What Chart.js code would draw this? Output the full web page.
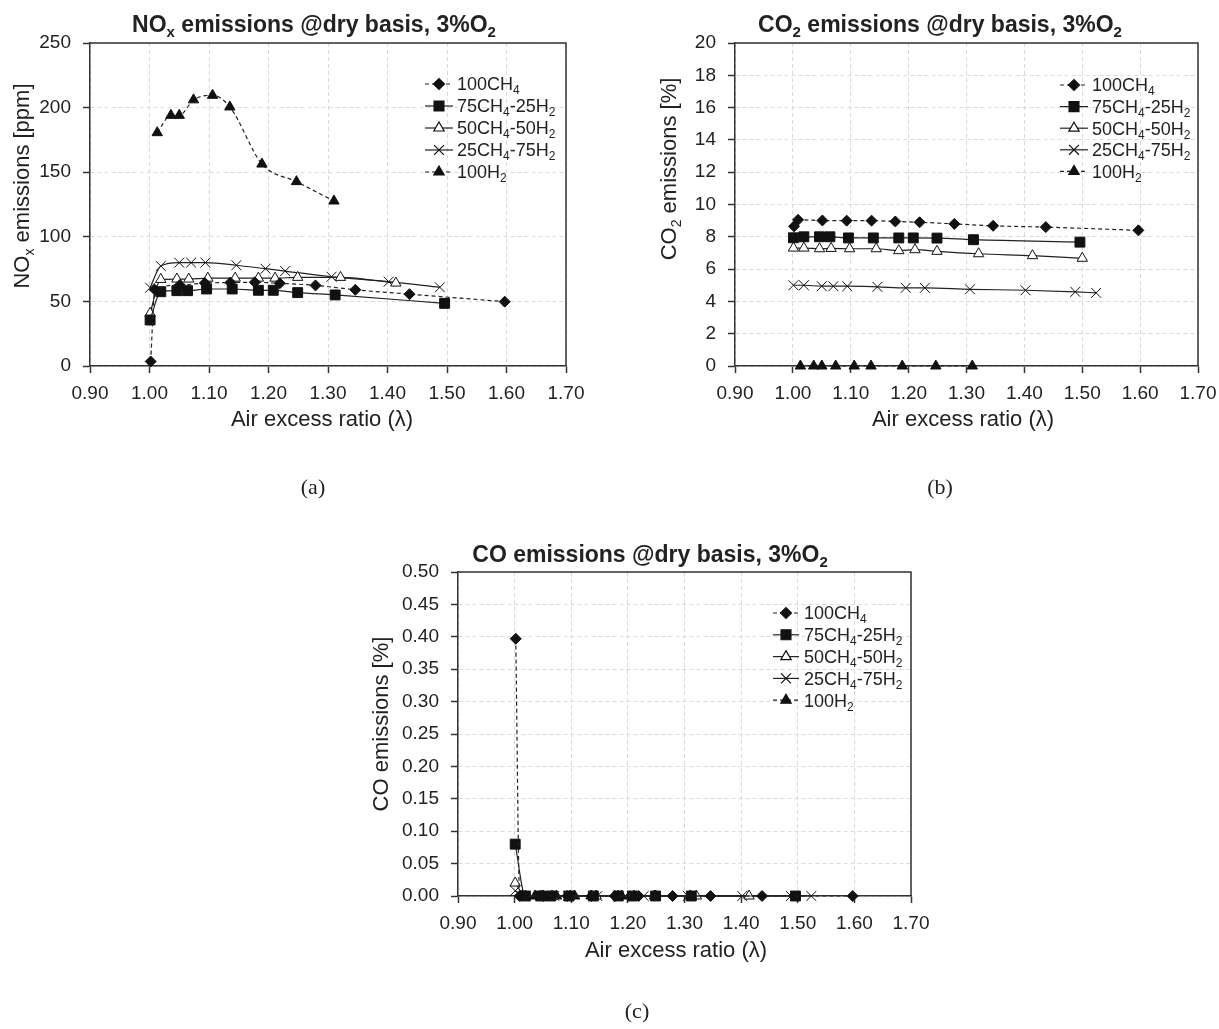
<!DOCTYPE html>
<html>
<head>
<meta charset="utf-8">
<script src="https://cdn.jsdelivr.net/npm/chart.js@4.4.0/dist/chart.umd.min.js"></script>
<style>
  body { margin: 0; background: #fff; }
  #wrap { position: relative; width: 1219px; height: 1029px; }
  canvas { position: absolute; }
</style>
</head>
<body>
<div id="wrap">
  <canvas id="noxChart" width="610" height="515" style="left:0;top:0"></canvas>
  <canvas id="co2Chart" width="609" height="515" style="left:610px;top:0"></canvas>
  <canvas id="coChart" width="640" height="514" style="left:300px;top:515px"></canvas>
</div>
<script>
// series names ("_x" = subscript x)
const seriesNames = ['100CH_4', '75CH_4-25H_2', '50CH_4-50H_2', '25CH_4-75H_2', '100H_2'];

// tick values
const xTicks = [0.90, 1.00, 1.10, 1.20, 1.30, 1.40, 1.50, 1.60, 1.70];
const noxTicks = [0, 50, 100, 150, 200, 250];
const co2Ticks = [0, 2, 4, 6, 8, 10, 12, 14, 16, 18, 20];
const coTicks = [0, 0.05, 0.10, 0.15, 0.20, 0.25, 0.30, 0.35, 0.40, 0.45, 0.50];

// air excess ratio of each measured point
const lam100CH4 = [1.002, 1.009, 1.051, 1.093, 1.136, 1.177, 1.219, 1.279, 1.346, 1.437, 1.597];
const lam75CH4 = [1.001, 1.019, 1.046, 1.064, 1.096, 1.139, 1.183, 1.208, 1.249, 1.312, 1.496];
const lam50CH4 = [1.001, 1.019, 1.046, 1.066, 1.098, 1.144, 1.183, 1.211, 1.249, 1.321, 1.414, 1.500];
const lam25CH4 = [1.001, 1.019, 1.050, 1.070, 1.094, 1.146, 1.195, 1.228, 1.306, 1.402, 1.488, 1.524];
const lam100H2 = [1.013, 1.036, 1.050, 1.074, 1.106, 1.135, 1.189, 1.247, 1.310];

// NOx [ppm]
const nox100CH4 = [3.5, 59, 62.7, 64.2, 64.6, 64.8, 64, 62.4, 59, 55.6, 49.8];
const nox75CH4 = [35.6, 57.5, 58.3, 58.3, 59.6, 59.6, 58.6, 58.6, 56.8, 55, 48.5];
const nox50CH4 = [40.8, 67, 67.3, 67.3, 68, 68, 68, 68, 68.6, 68.6, 64.2];
const nox25CH4 = [60.6, 77.4, 80, 80, 80, 78, 75.3, 73.5, 69.1, 65.3, 60.9];
const nox100H2 = [180.6, 194, 194, 206, 209.5, 200.5, 156.3, 142.7, 127.7];

// CO2 [%]
const co2100CH4 = [8.65, 9.05, 9.01, 9.0, 9.0, 8.95, 8.9, 8.8, 8.68, 8.6, 8.4];
const co275CH4 = [7.94, 8.0, 8.0, 8.0, 7.93, 7.93, 7.93, 7.93, 7.92, 7.82, 7.67];
const co250CH4 = [7.3, 7.3, 7.26, 7.28, 7.26, 7.26, 7.14, 7.2, 7.1, 6.95, 6.83, 6.67];
const co225CH4 = [5.0, 5.0, 4.94, 4.94, 4.94, 4.9, 4.84, 4.84, 4.75, 4.69, 4.59, 4.53];
const co2100H2 = [0, 0, 0, 0, 0, 0, 0, 0, 0];

// CO [%]
const co100CH4 = [0.397, 0, 0, 0, 0, 0, 0, 0, 0, 0, 0];
const co75CH4 = [0.08, 0, 0, 0, 0, 0, 0, 0, 0, 0, 0];
const co50CH4 = [0.02, 0, 0, 0, 0, 0, 0, 0, 0, 0, 0];
const co25CH4 = [0.008, 0, 0, 0, 0, 0, 0, 0, 0, 0, 0, 0];
const co100H2 = [0, 0, 0, 0, 0, 0, 0, 0, 0];

const lams = [lam100CH4, lam75CH4, lam50CH4, lam25CH4, lam100H2];

const FONT = '"Liberation Sans", Arial, sans-serif';
const INK = '#222';

const seriesStyles = [
    { pointStyle: 'rectRot', radius: 5.5, fill: '#111', dash: [4, 3] },
    { pointStyle: 'rect', radius: 7, fill: '#111', dash: [] },
    { pointStyle: 'triangle', radius: 6, fill: '#fff', dash: [] },
    { pointStyle: 'crossRot', radius: 7, fill: '#111', dash: [] },
    { pointStyle: 'triangle', radius: 6, fill: '#111', dash: [4, 3] }
];

// split "75CH_4-25H_2" into [text, isSub] pieces
function parseRich(str) {
    const parts = [];
    let buf = '';
    for (let i = 0; i < str.length; i++) {
        if (str[i] === '_') {
            if (buf) parts.push([buf, false]);
            buf = '';
            parts.push([str[i + 1], true]);
            i++;
        } else {
            buf += str[i];
        }
    }
    if (buf) parts.push([buf, false]);
    return parts;
}

function drawRich(ctx, str, x, y, size, align, weight) {
    const parts = parseRich(str);
    const w = weight || 'normal';
    const subSize = Math.round(size * 0.64);
    let total = 0;
    parts.forEach(p => {
        ctx.font = w + ' ' + (p[1] ? subSize : size) + 'px ' + FONT;
        total += ctx.measureText(p[0]).width;
    });
    let cx = align === 'center' ? x - total / 2 : x;
    ctx.textAlign = 'left';
    ctx.textBaseline = 'alphabetic';
    const base = y + size * 0.36;
    parts.forEach(p => {
        ctx.font = w + ' ' + (p[1] ? subSize : size) + 'px ' + FONT;
        ctx.fillText(p[0], cx, p[1] ? base + size * 0.22 : base);
        cx += ctx.measureText(p[0]).width;
    });
}

function makeDeco(cfg) {
    return {
        id: 'deco',
        afterDraw(chart) {
            const ctx = chart.ctx;
            const a = chart.chartArea;
            ctx.save();
            ctx.fillStyle = INK;

            // top and right frame lines
            ctx.strokeStyle = '#333';
            ctx.lineWidth = 1.5;
            ctx.beginPath();
            ctx.moveTo(a.left, a.top);
            ctx.lineTo(a.right, a.top);
            ctx.lineTo(a.right, a.bottom);
            ctx.stroke();

            drawRich(ctx, cfg.title, cfg.titlePos[0], cfg.titlePos[1], 23, 'center', 'bold');
            drawRich(ctx, 'Air excess ratio (λ)', cfg.xTitlePos[0], cfg.xTitlePos[1], 22, 'center');

            ctx.save();
            ctx.translate(cfg.yTitlePos[0], cfg.yTitlePos[1]);
            ctx.rotate(-Math.PI / 2);
            drawRich(ctx, cfg.yTitle, 0, 0, 22, 'center');
            ctx.restore();

            ctx.font = '22px "Liberation Serif", "Times New Roman", serif';
            ctx.textAlign = 'center';
            ctx.textBaseline = 'middle';
            ctx.fillText(cfg.caption, cfg.captionPos[0], cfg.captionPos[1]);

            // legend
            const L = cfg.legend;
            seriesNames.forEach((name, i) => {
                const st = seriesStyles[i];
                const y = L.y0 + i * L.dy;
                ctx.save();
                ctx.strokeStyle = INK;
                ctx.lineWidth = 1.2;
                ctx.setLineDash(st.dash);
                ctx.beginPath();
                ctx.moveTo(L.x0, y);
                ctx.lineTo(L.x1, y);
                ctx.stroke();
                ctx.setLineDash([]);
                ctx.fillStyle = st.fill;
                ctx.strokeStyle = '#111';
                Chart.helpers.drawPoint(ctx, { pointStyle: st.pointStyle, radius: st.radius, rotation: 0, borderWidth: 1 }, (L.x0 + L.x1) / 2, y);
                ctx.restore();
                ctx.fillStyle = INK;
                drawRich(ctx, name, L.tx, y, 18, 'left');
            });
            ctx.restore();
        }
    };
}

function makeDatasets(values) {
    return values.map((vals, i) => {
        const st = seriesStyles[i];
        return {
            label: seriesNames[i],
            data: vals.map((v, j) => ({ x: lams[i][j], y: v })),
            showLine: true,
            borderColor: INK,
            borderWidth: 1.2,
            borderDash: st.dash,
            cubicInterpolationMode: 'monotone',
            pointStyle: st.pointStyle,
            pointRadius: st.radius,
            pointBackgroundColor: st.fill,
            pointBorderColor: '#111',
            pointBorderWidth: 1,
            clip: false,
            fill: false
        };
    });
}

function buildChart(id, cfg) {
    const tickFont = { family: FONT, size: 19 };
    new Chart(document.getElementById(id), {
        type: 'scatter',
        data: { datasets: makeDatasets(cfg.values) },
        options: {
            responsive: false,
            animation: false,
            events: [],
            layout: { padding: cfg.padding },
            plugins: { legend: { display: false }, title: { display: false }, tooltip: { enabled: false } },
            scales: {
                x: {
                    type: 'linear', min: 0.9, max: 1.7,
                    afterBuildTicks: s => { s.ticks = xTicks.map(v => ({ value: v })); },
                    afterFit: s => { s.height = 60; s.paddingLeft = 0; s.paddingRight = 0; },
                    ticks: { callback: v => v.toFixed(2), font: tickFont, color: INK, padding: 9, maxRotation: 0, autoSkip: false },
                    grid: { color: '#dadada', lineWidth: 1, tickColor: '#333', tickLength: 7, tickWidth: 1.5 },
                    border: { color: '#333', width: 1.5, dash: [4, 3] }
                },
                y: {
                    type: 'linear', min: cfg.yTicks[0], max: cfg.yTicks[cfg.yTicks.length - 1],
                    afterBuildTicks: s => { s.ticks = cfg.yTicks.map(v => ({ value: v })); },
                    afterFit: s => { s.width = cfg.yWidth; s.paddingTop = 0; s.paddingBottom = 0; },
                    ticks: { callback: cfg.yFormat, font: tickFont, color: INK, padding: 12, autoSkip: false },
                    grid: { color: '#dadada', lineWidth: 1, tickColor: '#333', tickLength: 7, tickWidth: 1.5 },
                    border: { color: '#333', width: 1.5, dash: [4, 3] }
                }
            }
        },
        plugins: [makeDeco(cfg)]
    });
}

// (a) NOx
buildChart('noxChart', {
    values: [nox100CH4, nox75CH4, nox50CH4, nox25CH4, nox100H2],
    yTicks: noxTicks, yFormat: v => String(v), yWidth: 90,
    padding: { top: 43, left: 0, right: 44, bottom: 89 },
    title: 'NO_x emissions @dry basis, 3%O_2', titlePos: [314, 24],
    yTitle: 'NO_x emissions [ppm]', yTitlePos: [21, 186],
    xTitlePos: [322, 418],
    caption: '(a)', captionPos: [313, 488],
    legend: { x0: 425, x1: 453, tx: 457, y0: 84, dy: 22 }
});

// (b) CO2
buildChart('co2Chart', {
    values: [co2100CH4, co275CH4, co250CH4, co225CH4, co2100H2],
    yTicks: co2Ticks, yFormat: v => String(v), yWidth: 125,
    padding: { top: 43, left: 0, right: 21, bottom: 89 },
    title: 'CO_2 emissions @dry basis, 3%O_2', titlePos: [330, 24],
    yTitle: 'CO_2 emissions [%]', yTitlePos: [58, 169],
    xTitlePos: [353, 418],
    caption: '(b)', captionPos: [330, 488],
    legend: { x0: 450, x1: 478, tx: 482, y0: 85, dy: 21.6 }
});

// (c) CO
buildChart('coChart', {
    values: [co100CH4, co75CH4, co50CH4, co25CH4, co100H2],
    yTicks: coTicks, yFormat: v => v.toFixed(2), yWidth: 158,
    padding: { top: 57, left: 0, right: 29, bottom: 73 },
    title: 'CO emissions @dry basis, 3%O_2', titlePos: [350, 39],
    yTitle: 'CO emissions [%]', yTitlePos: [80, 209],
    xTitlePos: [376, 434],
    caption: '(c)', captionPos: [337, 497],
    legend: { x0: 473, x1: 499, tx: 504, y0: 98, dy: 21.8 }
});
</script>
</body>
</html>
